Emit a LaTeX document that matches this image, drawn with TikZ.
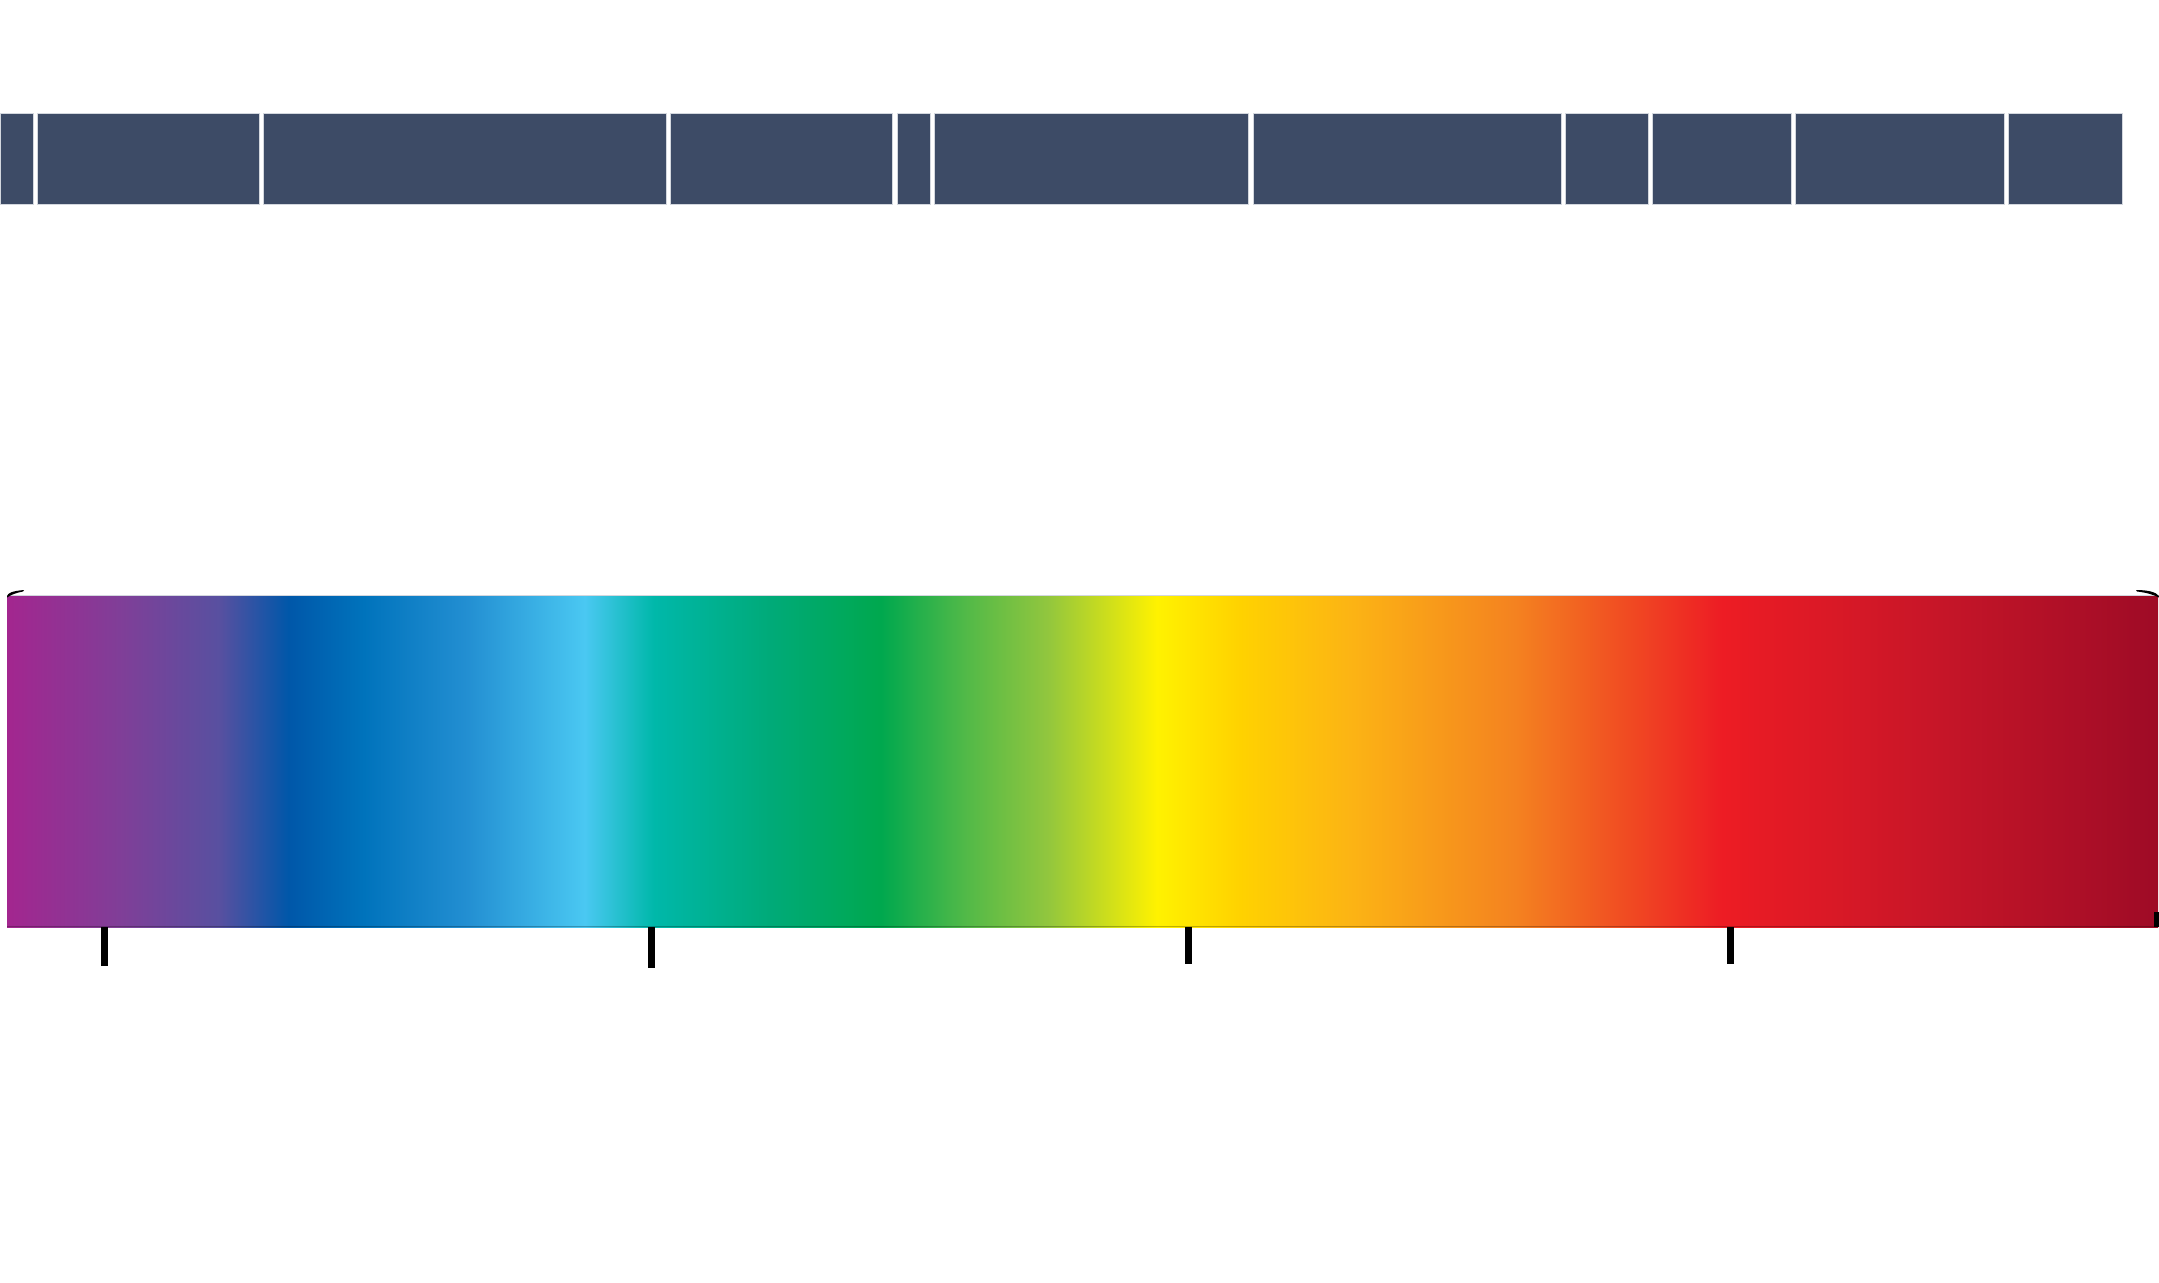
\documentclass[tikz,border=0pt]{standalone}
\usetikzlibrary{calc}
\definecolor{boxcol}{HTML}{3D4B66}
\definecolor{boxedge}{HTML}{D3D7DE}
\pgfdeclarehorizontalshading{spectrum}{100bp}{%
  color(0bp)=(rgb,255:red,163;green,38;blue,143);
  color(25bp)=(rgb,255:red,163;green,38;blue,143);
  color(27.69bp)=(rgb,255:red,127;green,63;blue,152);
  color(29.94bp)=(rgb,255:red,88;green,80;blue,160);
  color(31.54bp)=(rgb,255:red,0;green,87;blue,169);
  color(33.30bp)=(rgb,255:red,0;green,115;blue,188);
  color(35.71bp)=(rgb,255:red,35;green,143;blue,210);
  color(38.43bp)=(rgb,255:red,74;green,200;blue,242);
  color(40.03bp)=(rgb,255:red,0;green,184;blue,170);
  color(42.76bp)=(rgb,255:red,0;green,170;blue,120);
  color(45.32bp)=(rgb,255:red,0;green,168;blue,78);
  color(47.24bp)=(rgb,255:red,80;green,185;blue,72);
  color(49.17bp)=(rgb,255:red,145;green,198;blue,62);
  color(51.73bp)=(rgb,255:red,255;green,242;blue,0);
  color(53.65bp)=(rgb,255:red,255;green,210;blue,0);
  color(56.22bp)=(rgb,255:red,252;green,180;blue,20);
  color(60.06bp)=(rgb,255:red,244;green,130;blue,32);
  color(64.87bp)=(rgb,255:red,237;green,28;blue,36);
  color(69.68bp)=(rgb,255:red,200;green,22;blue,40);
  color(75bp)=(rgb,255:red,158;green,11;blue,38);
  color(100bp)=(rgb,255:red,158;green,11;blue,38)}
\tikzset{
  band/.style={fill=boxcol, draw=boxedge, line width=0.5},
  tick/.style={fill=black},
  wedge/.style={fill=black}
}
\begin{document}
\begin{tikzpicture}[x=0.5pt,y=-0.5pt]
\useasboundingbox[fill=white] (0,0) rectangle (2159,1282);
% top bands
\foreach \a/\b in {0/33,37/259,263/666,670/892,897/930,934/1248,1253/1561,1565/1648,1652/1791,1795/2004,2008/2122}{
  \path[band] (\a,113) rectangle (\b,204);
}
% spectrum bar
\shade[shading=spectrum] (7,595) rectangle (2158,927);
\draw[black, opacity=0.25, line width=0.8] (7,926.5) -- (2158,926.5);
\draw[boxedge, line width=0.5] (7,595) -- (2158,595);
% ticks
\foreach \x/\h in {104.6/966, 651.3/968, 1188.3/964, 1730.8/964}{
  \path[tick] (\x-3.5,927) rectangle (\x+3.5,\h);
}
% corner marks
\path[wedge] (7,596) .. controls (8,593) and (12,591) .. (24,590) -- (23,591.5) .. controls (15,593) and (11,595) .. (7,597.5) -- cycle;
\path[wedge] (2159,596) .. controls (2156,592) and (2148,590) .. (2136,590) -- (2137,591.5) .. controls (2146,592.5) and (2153,594.5) .. (2159,597.5) -- cycle;
\path[wedge] (2154,912) rectangle (2159,927);
\end{tikzpicture}
\end{document}
